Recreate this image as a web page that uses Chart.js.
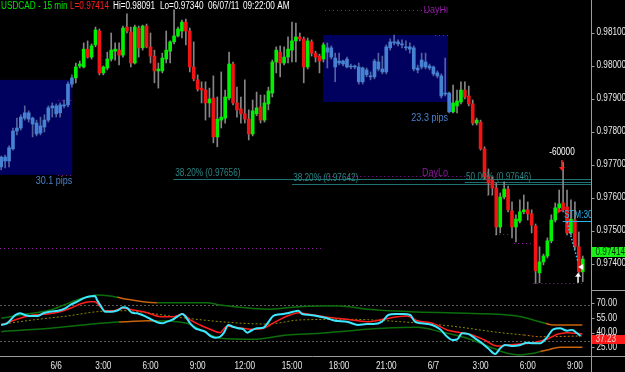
<!DOCTYPE html>
<html>
<head>
<meta charset="utf-8">
<title>USDCAD - 15 min</title>
<script src="https://cdn.jsdelivr.net/npm/chart.js@4.4.0/dist/chart.umd.min.js"></script>
<style>
  html, body { margin: 0; padding: 0; background: #000; overflow: hidden; }
  #wrap { width: 625px; height: 372px; }
</style>
</head>
<body>
<div id="wrap"><canvas id="chart" width="625" height="372"></canvas></div>
<script>
// USDCAD 15 min bars, one entry per bar (6/5 20:30 -> 6/7 09:30)
const opens = [
  0.97693,0.97723,0.97711,0.97748,0.97802,0.97811,0.97841,0.97857,0.97841,0.97826,
  0.97796,0.97814,0.97835,0.97872,0.97878,0.97857,0.97881,0.97881,0.97944,0.97963,
  0.97999,0.97996,0.98050,0.98026,0.98063,0.98105,0.97978,0.97993,0.98020,0.98044,
  0.98047,0.98032,0.98117,0.98102,0.98008,0.98114,0.98054,0.98120,0.98057,0.98029,
  0.97984,0.97984,0.98020,0.98044,0.98072,0.98090,0.98105,0.98132,0.98105,0.97996,
  0.97957,0.97932,0.97926,0.97887,0.97902,0.97784,0.97835,0.97841,0.97902,0.98005,
  0.97887,0.97869,0.97854,0.97838,0.97793,0.97854,0.97875,0.97835,0.97884,0.97917,
  0.98011,0.98041,0.98008,0.98026,0.98047,0.98075,0.98087,0.98081,0.97996,0.98072,
  0.98038,0.98029,0.98020,0.98054,0.98026,0.98023,0.98008,0.98014,0.98020,0.97999,
  0.97996,0.97996,0.97951,0.97987,0.97969,0.97966,0.98011,0.97990,0.97981,0.98054,
  0.98069,0.98072,0.98066,0.98057,0.98057,0.98054,0.97993,0.97996,0.97996,0.97999,
  0.97996,0.97978,0.97969,0.97917,0.97917,0.97860,0.97878,0.97890,0.97926,0.97908,
  0.97884,0.97826,0.97829,0.97748,0.97666,0.97654,0.97629,0.97511,0.97602,0.97626,
  0.97560,0.97511,0.97529,0.97557,0.97563,0.97551,0.97514,0.97372,0.97405,0.97423,
  0.97469,0.97532,0.97569,0.97584,0.97572,0.97493,0.97532,0.97451,0.97375
];
const highs = [
  0.97726,0.97729,0.97757,0.97811,0.97841,0.97851,0.97878,0.97863,0.97844,0.97835,
  0.97844,0.97851,0.97878,0.97887,0.97884,0.97887,0.97896,0.97951,0.97972,0.98008,
  0.98014,0.98069,0.98075,0.98066,0.98117,0.98111,0.97999,0.98041,0.98099,0.98069,
  0.98069,0.98120,0.98157,0.98117,0.98123,0.98120,0.98123,0.98126,0.98099,0.98047,
  0.98008,0.98038,0.98105,0.98075,0.98169,0.98117,0.98138,0.98141,0.98114,0.98072,
  0.97972,0.97951,0.97951,0.97932,0.97969,0.97905,0.97981,0.97926,0.98041,0.98011,
  0.97935,0.97905,0.97957,0.97866,0.97896,0.97920,0.97911,0.97911,0.97935,0.98017,
  0.98057,0.98060,0.98057,0.98087,0.98132,0.98129,0.98099,0.98087,0.98084,0.98078,
  0.98044,0.98035,0.98069,0.98069,0.98060,0.98038,0.98038,0.98017,0.98026,0.98005,
  0.98002,0.98008,0.97996,0.97993,0.97981,0.98020,0.98038,0.98029,0.98063,0.98081,
  0.98093,0.98078,0.98078,0.98075,0.98069,0.98060,0.98002,0.98038,0.98038,0.98005,
  0.97999,0.97984,0.97975,0.98023,0.97920,0.97941,0.97926,0.97951,0.97951,0.97938,
  0.97896,0.97841,0.97835,0.97754,0.97687,0.97663,0.97644,0.97614,0.97648,0.97635,
  0.97587,0.97548,0.97593,0.97608,0.97587,0.97563,0.97520,0.97451,0.97429,0.97478,
  0.97548,0.97584,0.97623,0.97708,0.97623,0.97593,0.97587,0.97496,0.97423
];
const lows = [
  0.97684,0.97690,0.97693,0.97744,0.97790,0.97805,0.97835,0.97829,0.97784,0.97787,
  0.97790,0.97799,0.97829,0.97844,0.97844,0.97844,0.97872,0.97875,0.97935,0.97948,
  0.97993,0.97993,0.98023,0.98020,0.98057,0.97972,0.97972,0.97987,0.98014,0.98017,
  0.98002,0.98026,0.98099,0.97996,0.98005,0.98026,0.98047,0.98054,0.98008,0.97948,
  0.97932,0.97978,0.98008,0.98008,0.98066,0.98087,0.98084,0.98063,0.97981,0.97954,
  0.97923,0.97887,0.97835,0.97844,0.97766,0.97754,0.97811,0.97826,0.97896,0.97881,
  0.97844,0.97826,0.97826,0.97775,0.97787,0.97848,0.97826,0.97829,0.97866,0.97905,
  0.97978,0.97966,0.98002,0.98008,0.98011,0.98011,0.98075,0.97948,0.97990,0.98029,
  0.98011,0.97978,0.98011,0.97993,0.98020,0.97951,0.98002,0.97999,0.97993,0.97990,
  0.97990,0.97944,0.97944,0.97966,0.97957,0.97960,0.97984,0.97975,0.97975,0.98047,
  0.98063,0.98060,0.98054,0.98047,0.98038,0.97984,0.97978,0.97990,0.97990,0.97987,
  0.97969,0.97963,0.97902,0.97908,0.97857,0.97857,0.97857,0.97884,0.97899,0.97878,
  0.97820,0.97820,0.97744,0.97654,0.97608,0.97608,0.97487,0.97493,0.97596,0.97557,
  0.97478,0.97466,0.97523,0.97551,0.97532,0.97493,0.97340,0.97342,0.97396,0.97417,
  0.97463,0.97526,0.97563,0.97557,0.97487,0.97487,0.97444,0.97366,0.97345
];
const closes = [
  0.97723,0.97711,0.97751,0.97802,0.97811,0.97844,0.97857,0.97838,0.97823,0.97793,
  0.97817,0.97835,0.97872,0.97878,0.97854,0.97881,0.97878,0.97944,0.97963,0.97996,
  0.98005,0.98050,0.98026,0.98060,0.98108,0.97978,0.97996,0.98020,0.98047,0.98050,
  0.98032,0.98114,0.98105,0.98008,0.98117,0.98054,0.98120,0.98057,0.98029,0.97984,
  0.97990,0.98023,0.98047,0.98072,0.98090,0.98111,0.98132,0.98105,0.97996,0.97960,
  0.97929,0.97926,0.97887,0.97899,0.97784,0.97838,0.97844,0.97905,0.98005,0.97887,
  0.97866,0.97854,0.97838,0.97793,0.97863,0.97872,0.97835,0.97887,0.97923,0.98011,
  0.98047,0.98008,0.98026,0.98050,0.98075,0.98087,0.98081,0.97996,0.98075,0.98038,
  0.98026,0.98014,0.98063,0.98041,0.98054,0.97996,0.98014,0.98005,0.97996,0.97996,
  0.97999,0.97951,0.97993,0.97972,0.97966,0.98014,0.97990,0.97981,0.98057,0.98072,
  0.98072,0.98066,0.98063,0.98054,0.98050,0.97990,0.97987,0.98017,0.98011,0.97993,
  0.97975,0.97969,0.97908,0.97914,0.97860,0.97887,0.97893,0.97926,0.97905,0.97884,
  0.97826,0.97835,0.97748,0.97663,0.97644,0.97629,0.97511,0.97602,0.97626,0.97563,
  0.97511,0.97535,0.97557,0.97563,0.97551,0.97517,0.97378,0.97405,0.97423,0.97469,
  0.97532,0.97569,0.97581,0.97563,0.97493,0.97535,0.97451,0.97375,0.97414
];

// bars painted blue (highlighted sessions)
const blueRanges = [[0, 18], [83, 114]];

// axes
const tickIdx = [14, 26, 38, 50, 62, 74, 86, 98, 110, 122, 134, 146];
const tickLabels = ['6/6', '3:00', '6:00', '9:00', '12:00', '15:00', '18:00', '21:00', '6/7', '3:00', '6:00', '9:00'];
const priceTicks = [0.974, 0.975, 0.976, 0.977, 0.978, 0.979, 0.980, 0.981];
const oscTicks = [25, 40, 55, 70];
const oscLevels = [68.3, 31.8];
const oscLast = 37.23;

// oscillator panel, [bar, value]
const oscMain = [[0,47.8],[1.5,49.5],[3.6,58],[4.8,59.8],[6.1,58],[7.4,57],[9.2,57],[10.7,59.8],[12.5,61.4],[14.5,62.4],[16.3,64.9],[17.6,68.3],[19.3,71.6],[20.9,75],[22.1,76.7],[23.9,77.5],[24.4,73.4],[25.2,68.3],[26.5,61.4],[28.2,61.4],[29.8,63],[31,66],[32.1,65],[33.3,60.4],[34.6,59.8],[35.9,58],[37.2,55.7],[38.4,53],[39.7,50.6],[41,49.5],[42.2,51.2],[43.5,53],[44.8,56.3],[46.1,59],[46.8,57],[48.1,49.5],[49.4,44.4],[50.6,42.7],[51.9,41],[53.2,36.6],[54.5,34.8],[55.7,35.8],[56.7,40],[57.8,47.8],[59,46],[60.3,44.4],[61.6,43.5],[62.6,40],[63.9,42.7],[65.1,44.4],[66.7,45],[67.9,50.2],[69.2,57],[71,58.7],[72.8,59.8],[74.3,61.4],[75.6,62.4],[76.6,59],[78.6,58],[81.2,56.3],[83,54.7],[85,52.2],[88,51.2],[90.8,47.8],[93.1,48.7],[94.7,48.7],[96.9,51.2],[98.5,58],[100.3,59],[102.3,59],[104.1,58],[105.3,51.2],[107.1,49.5],[109.7,47.8],[111.7,43.4],[113.5,35.8],[114.8,32.5],[116,33],[117.3,39.3],[118.8,38.7],[120.6,34.2],[122.4,29.1],[123.9,24],[125.7,18.2],[127,24],[128.2,27.4],[130.3,26.3],[132.1,27.4],[133.8,29.7],[135.4,29.1],[137.2,29.1],[138.9,35.2],[140.5,43.4],[142.2,44.4],[144,42],[145.3,42.7],[146.6,39.3],[147.4,36.6]];
const oscSignal = [[0,47.8],[2.3,51.2],[4.8,54.7],[8.1,58],[11.7,59],[15,61.4],[17.6,64.9],[20.1,69.3],[22.6,71.6],[23.9,71.6],[25.2,66.5],[26.5,62.4],[28.5,62.4],[31,65],[33.6,63.1],[37.2,60.4],[40.5,56.3],[43.8,56.3],[46.1,59],[48.1,53],[50.6,47.8],[53.2,43.4],[55.7,40],[57.5,46.8],[59,45.7],[61.6,44.4],[64.1,43.4],[66.7,44.4],[68.4,47.8],[71,53.6],[73.5,58],[75.6,60.4],[77.9,59],[81.2,57],[83,55.7],[88,53.6],[93.1,51.2],[97.2,53.6],[100.8,56.3],[103.3,57],[105.9,52.2],[109.9,49.5],[113.5,42.7],[116.8,40],[119.3,38.3],[122.6,33.2],[126.2,26.3],[128.8,27.4],[132.1,28.4],[135.4,29.7],[138.9,33.2],[141.5,38.3],[144,40],[146.6,39.3],[147.9,38.6]];
const bandUpper = [[0,54.7],[4.8,58],[12.5,63.1],[19.3,73.4],[24.4,78.5],[27.7,77.5],[29.5,76.2],[32.1,74.1],[36.1,71.6],[39.7,70.6],[52.4,70.6],[55.7,68.3],[60.8,66],[67.7,63.9],[74.3,66],[81.2,67.2],[86.3,67.2],[93.1,63.9],[104.1,61.4],[118.6,59.8],[131.3,57],[135.4,53],[138.5,49.5],[140.5,47.8],[147.9,47.8]];
const bandLower = [[0,41],[12.5,44.4],[25.2,49.5],[30,50.8],[32.1,51.2],[37.2,52.2],[39.7,52],[47.3,49.5],[52.4,39.3],[55.7,34.2],[64.1,33.2],[72.8,37.6],[81.2,39.3],[88.8,42],[97.2,44.4],[105.9,45.4],[111.7,41],[118.6,34.2],[125.2,24],[128.8,18.9],[132.1,17.1],[135.4,18.9],[137.2,20.6],[138.9,22.2],[142.2,25],[147.9,25]];
const bandMid = [[0,48.5],[8.1,53],[16.8,57],[24.4,61.4],[32.1,62.4],[37.9,59.8],[47.3,54.7],[59,50.2],[67.7,48.8],[76.1,53],[88.8,53.6],[101.5,51.2],[114.3,46.8],[127,40],[133,37.6],[137.2,35.8],[147.9,36.6]];
const upperOrange = [[29, 40], [138.5, 151]];
const lowerOrange = [[30, 39.7], [137, 151]];
const midOrange = [[133, 151]];

// drawing objects on the price panel (bar index / price)
const boxes = [
  { from: -0.3, to: 18.1, hi: 0.97957, lo: 0.97669, text: '30.1 pips', tx: 18.1, ty: 0.97651 },
  { from: 81.9, to: 113.7, hi: 0.98093, lo: 0.97890, text: '23.3 pips', tx: 113.7, ty: 0.97841 }
];
const fibLines = [
  { price: 0.97656, from: 43.8, text: '38.20% (0.97656)', tx: 44.3, ty: 0.97675 },
  { price: 0.97642, from: 74.0, text: '38.20% (0.97642)', tx: 74.3, ty: 0.97660 },
  { price: 0.97646, from: 118.0, text: '50.00% (0.97646)', tx: 118.3, ty: 0.97663 }
];
const dayLines = [
  { price: 0.97448, from: -0.3, to: 81.7 },
  { price: 0.98169, from: 82.4, to: 113.7 },
  { price: 0.97666, from: 81.2, to: 118.3 },
  { price: 0.97896, from: 14.5, to: 18.1 },
  { price: 0.97669, from: 14.5, to: 18.1 },
  { price: 0.98093, from: 110.4, to: 113.7 },
  { price: 0.97608, from: 123.7, to: 125.2 },
  { price: 0.97490, from: 125.7, to: 129.2 },
  { price: 0.97463, from: 130.5, to: 135.1 },
  { price: 0.97340, from: 135.4, to: 148.2 }
];

const SX = 0.82;
const FONT = '"Liberation Sans", Arial, sans-serif';

function text(ctx, s, x, y, color, size, align) {
  ctx.save();
  ctx.font = size + 'px ' + FONT;
  ctx.fillStyle = color;
  ctx.textBaseline = 'middle';
  ctx.textAlign = 'left';
  const w = ctx.measureText(s).width * SX;
  const x0 = align === 'right' ? x - w : align === 'center' ? x - w / 2 : x;
  ctx.translate(x0, y);
  ctx.scale(SX, 1);
  ctx.fillText(s, 0, 0);
  ctx.restore();
}

function hline(ctx, x0, x1, y, color, width, dash) {
  ctx.save();
  ctx.strokeStyle = color;
  ctx.lineWidth = width;
  ctx.setLineDash(dash || []);
  const yy = Math.round(y) + 0.5;
  ctx.beginPath();
  ctx.moveTo(x0, yy);
  ctx.lineTo(x1, yy);
  ctx.stroke();
  ctx.restore();
}

function arrow(ctx, x, y0, y1, color) {
  const d = y1 > y0 ? 1 : -1;
  ctx.save();
  ctx.strokeStyle = color;
  ctx.fillStyle = color;
  ctx.lineWidth = 1.5;
  ctx.beginPath();
  ctx.moveTo(x, y0);
  ctx.lineTo(x, y1 - 3 * d);
  ctx.stroke();
  ctx.beginPath();
  ctx.moveTo(x - 3, y1 - 4 * d);
  ctx.lineTo(x + 3, y1 - 4 * d);
  ctx.lineTo(x, y1);
  ctx.closePath();
  ctx.fill();
  ctx.restore();
}

const overlay = {
  id: 'overlay',
  beforeDatasetsDraw(chart) {
    const { ctx, chartArea: a, scales: { x, y, y2 } } = chart;
    ctx.save();
    ctx.beginPath();
    ctx.rect(a.left, a.top, a.right - a.left, a.bottom - a.top);
    ctx.clip();

    boxes.forEach(b => {
      const l = x.getPixelForValue(b.from), r = x.getPixelForValue(b.to);
      const t = y.getPixelForValue(b.hi), bt = y.getPixelForValue(b.lo);
      ctx.fillStyle = '#00005e';
      ctx.fillRect(l, t, r - l, bt - t);
    });

    fibLines.forEach(f => {
      hline(ctx, x.getPixelForValue(f.from), a.right, y.getPixelForValue(f.price), '#1f7070', 1);
    });

    dayLines.forEach(d => {
      hline(ctx, x.getPixelForValue(d.from), x.getPixelForValue(d.to), y.getPixelForValue(d.price), '#8c1a9c', 1, [1, 3]);
    });

    oscLevels.forEach(v => {
      hline(ctx, a.left, a.right, y2.getPixelForValue(v), '#5a5a5a', 1, [2, 2]);
    });
    ctx.restore();
  },
  afterDatasetsDraw(chart) {
    const { ctx, chartArea: a, scales: { x, y, y2 } } = chart;
    const W = chart.width, H = chart.height;

    ctx.save();
    ctx.beginPath();
    ctx.rect(a.left, 6, a.right - a.left, y2.top - 6);
    ctx.clip();

    boxes.forEach(b => text(ctx, b.text, x.getPixelForValue(b.tx), y.getPixelForValue(b.ty), '#4a80c8', 11, 'right'));
    fibLines.forEach(f => text(ctx, f.text, x.getPixelForValue(f.tx), y.getPixelForValue(f.ty), '#2b8585', 10, 'left'));
    text(ctx, 'DayHi', x.getPixelForValue(113.7), y.getPixelForValue(0.98169), '#8c1a9c', 11, 'right');
    text(ctx, 'DayLo', x.getPixelForValue(113.7), y.getPixelForValue(0.97675), '#8c1a9c', 11, 'right');

    // signal marks at the right end
    const sx = x.getPixelForValue(142.7);
    text(ctx, '-60000', sx, y.getPixelForValue(0.97738), '#ffffff', 10, 'center');
    arrow(ctx, sx, y.getPixelForValue(0.97714), y.getPixelForValue(0.97681), '#ff2020');
    const tx = x.getPixelForValue(142.0), ty = y.getPixelForValue(0.97560);
    ctx.fillStyle = '#ff2020';
    ctx.beginPath();
    ctx.moveTo(tx - 2, ty - 3); ctx.lineTo(tx + 3, ty); ctx.lineTo(tx - 2, ty + 3); ctx.closePath();
    ctx.fill();
    text(ctx, 'STM:30', x.getPixelForValue(143.2), y.getPixelForValue(0.97548), '#2ab4ea', 10, 'left');
    hline(ctx, x.getPixelForValue(142.9), a.right, y.getPixelForValue(0.97529), '#2ab4ea', 1);
    ctx.save();
    ctx.strokeStyle = '#3cc8ec';
    ctx.lineWidth = 1.5;
    ctx.setLineDash([1.5, 2]);
    ctx.beginPath();
    ctx.moveTo(x.getPixelForValue(144.0), y.getPixelForValue(0.97526));
    ctx.lineTo(x.getPixelForValue(146.8), y.getPixelForValue(0.97405));
    ctx.stroke();
    ctx.restore();
    arrow(ctx, x.getPixelForValue(146.8), y.getPixelForValue(0.97342), y.getPixelForValue(0.97372), '#ffffff');
    const wx = x.getPixelForValue(147.6), wy = y.getPixelForValue(0.97390);
    ctx.fillStyle = '#ffffff';
    ctx.beginPath();
    ctx.moveTo(wx - 3, wy); ctx.lineTo(wx + 2, wy - 3); ctx.lineTo(wx + 2, wy + 3); ctx.closePath();
    ctx.fill();
    ctx.restore();

    // axes
    const axis = '#9c9c9c';
    const ax = a.right + 0.5;
    ctx.save();
    ctx.strokeStyle = axis;
    ctx.lineWidth = 1;
    ctx.beginPath();
    ctx.moveTo(ax, 0); ctx.lineTo(ax, H);
    ctx.moveTo(0, Math.round(a.bottom) + 0.5); ctx.lineTo(W, Math.round(a.bottom) + 0.5);
    ctx.moveTo(ax, Math.round(y2.top) + 0.5); ctx.lineTo(W, Math.round(y2.top) + 0.5);
    ctx.stroke();
    ctx.restore();

    priceTicks.forEach(v => {
      const py = y.getPixelForValue(v);
      hline(ctx, ax, ax + 3, py, axis, 1);
      text(ctx, v.toFixed(5), ax + 5, py, '#e8e8e8', 10, 'left');
    });
    oscTicks.forEach(v => {
      const py = y2.getPixelForValue(v);
      hline(ctx, ax, ax + 3, py, axis, 1);
      text(ctx, v.toFixed(2), ax + 5, py, '#e8e8e8', 10, 'left');
    });
    tickIdx.forEach((v, i) => {
      text(ctx, tickLabels[i], x.getPixelForValue(v), a.bottom + 10, '#e8e8e8', 10, 'center');
    });

    // last value boxes
    const last = closes[closes.length - 1];
    const ly = Math.round(y.getPixelForValue(last));
    ctx.fillStyle = '#19f019';
    ctx.fillRect(ax + 0.5, ly - 12, W - ax, 10);
    text(ctx, last.toFixed(5), ax + 4, ly - 7, '#003000', 10, 'left');
    const oy = Math.round(y2.getPixelForValue(oscLast));
    ctx.fillStyle = '#ff1a1a';
    ctx.fillRect(ax + 0.5, oy, W - ax, 9);
    text(ctx, oscLast.toFixed(2), ax + 4, oy + 4.5, '#ffc8c8', 10, 'left');

    // header line
    text(ctx, 'USDCAD - 15 min', 1, 6.5, '#00e600', 10, 'left');
    text(ctx, 'L=0.97414', 70, 6.5, '#ff2020', 10, 'left');
    text(ctx, 'Hi=0.98091', 113, 6.5, '#ffffff', 10, 'left');
    text(ctx, 'Lo=0.97340', 160, 6.5, '#ffffff', 10, 'left');
    text(ctx, '06/07/11', 208, 6.5, '#ffffff', 10, 'left');
    text(ctx, '09:22:00 AM', 243, 6.5, '#ffffff', 10, 'left');
  }
};

const isBlue = i => blueRanges.some(r => i >= r[0] && i <= r[1]);
const bodyData = opens.map((o, i) => ({ x: i, y: [o, closes[i]] }));
const wickData = highs.map((h, i) => ({ x: i, y: [lows[i], h] }));
const bodyColors = opens.map((o, i) => isBlue(i) ? '#4682d2' : (closes[i] >= o ? '#00f000' : '#f01414'));
const wickColors = opens.map((o, i) => isBlue(i) ? '#52649c' : '#858585');
const pts = arr => arr.map(p => ({ x: p[0], y: p[1] }));
// colour a segment by where its middle falls
const segColor = (ranges, base, alt) => c => {
  const m = (c.p0.parsed.x + c.p1.parsed.x) / 2;
  return ranges.some(r => m >= r[0] && m < r[1]) ? alt : base;
};

const lineBase = { type: 'line', yAxisID: 'y2', pointRadius: 0, cubicInterpolationMode: 'monotone', fill: false };

new Chart(document.getElementById('chart'), {
  type: 'bar',
  data: {
    datasets: [
      { type: 'bar', data: bodyData, backgroundColor: bodyColors, barThickness: 3, grouped: false, minBarLength: 1, yAxisID: 'y', order: 0 },
      { type: 'bar', data: wickData, backgroundColor: wickColors, barThickness: 1, grouped: false, yAxisID: 'y', order: 1 },
      { ...lineBase, data: pts(oscMain), borderColor: '#3ee8ff', borderWidth: 2, order: 0 },
      { ...lineBase, data: pts(oscSignal), borderColor: '#ff1e1e', borderWidth: 1.5, order: 1 },
      { ...lineBase, data: pts(bandUpper), borderColor: '#0b6e0b', borderWidth: 1.5, order: 2,
        segment: { borderColor: segColor(upperOrange, '#0b6e0b', '#c8620c') } },
      { ...lineBase, data: pts(bandLower), borderColor: '#0b6e0b', borderWidth: 1.5, order: 2,
        segment: { borderColor: segColor(lowerOrange, '#0b6e0b', '#c8620c') } },
      { ...lineBase, data: pts(bandMid), borderColor: '#8a8a00', borderWidth: 1, borderDash: [2, 2], order: 3,
        segment: { borderColor: segColor(midOrange, '#8a8a00', '#c8700c') } }
    ]
  },
  options: {
    responsive: false,
    animation: false,
    events: [],
    layout: { padding: 0 },
    plugins: { legend: { display: false }, tooltip: { enabled: false } },
    scales: {
      x: {
        type: 'linear', min: -0.3, max: 150.1, offset: false,
        grid: { display: false }, border: { display: false }, ticks: { display: false },
        afterFit: s => { s.height = 16; }
      },
      y: {
        type: 'linear', position: 'right', stack: 'panes', stackWeight: 290,
        min: 0.97320, max: 0.98199,
        grid: { display: false }, border: { display: false }, ticks: { display: false },
        afterBuildTicks: s => { s.ticks = priceTicks.map(v => ({ value: v })); },
        afterFit: s => { s.width = 34; }
      },
      y2: {
        type: 'linear', position: 'right', stack: 'panes', stackWeight: 66,
        min: 16.1, max: 83.6,
        grid: { display: false }, border: { display: false }, ticks: { display: false },
        afterBuildTicks: s => { s.ticks = oscTicks.map(v => ({ value: v })); },
        afterFit: s => { s.width = 34; }
      }
    }
  },
  plugins: [overlay]
});
</script>
</body>
</html>
